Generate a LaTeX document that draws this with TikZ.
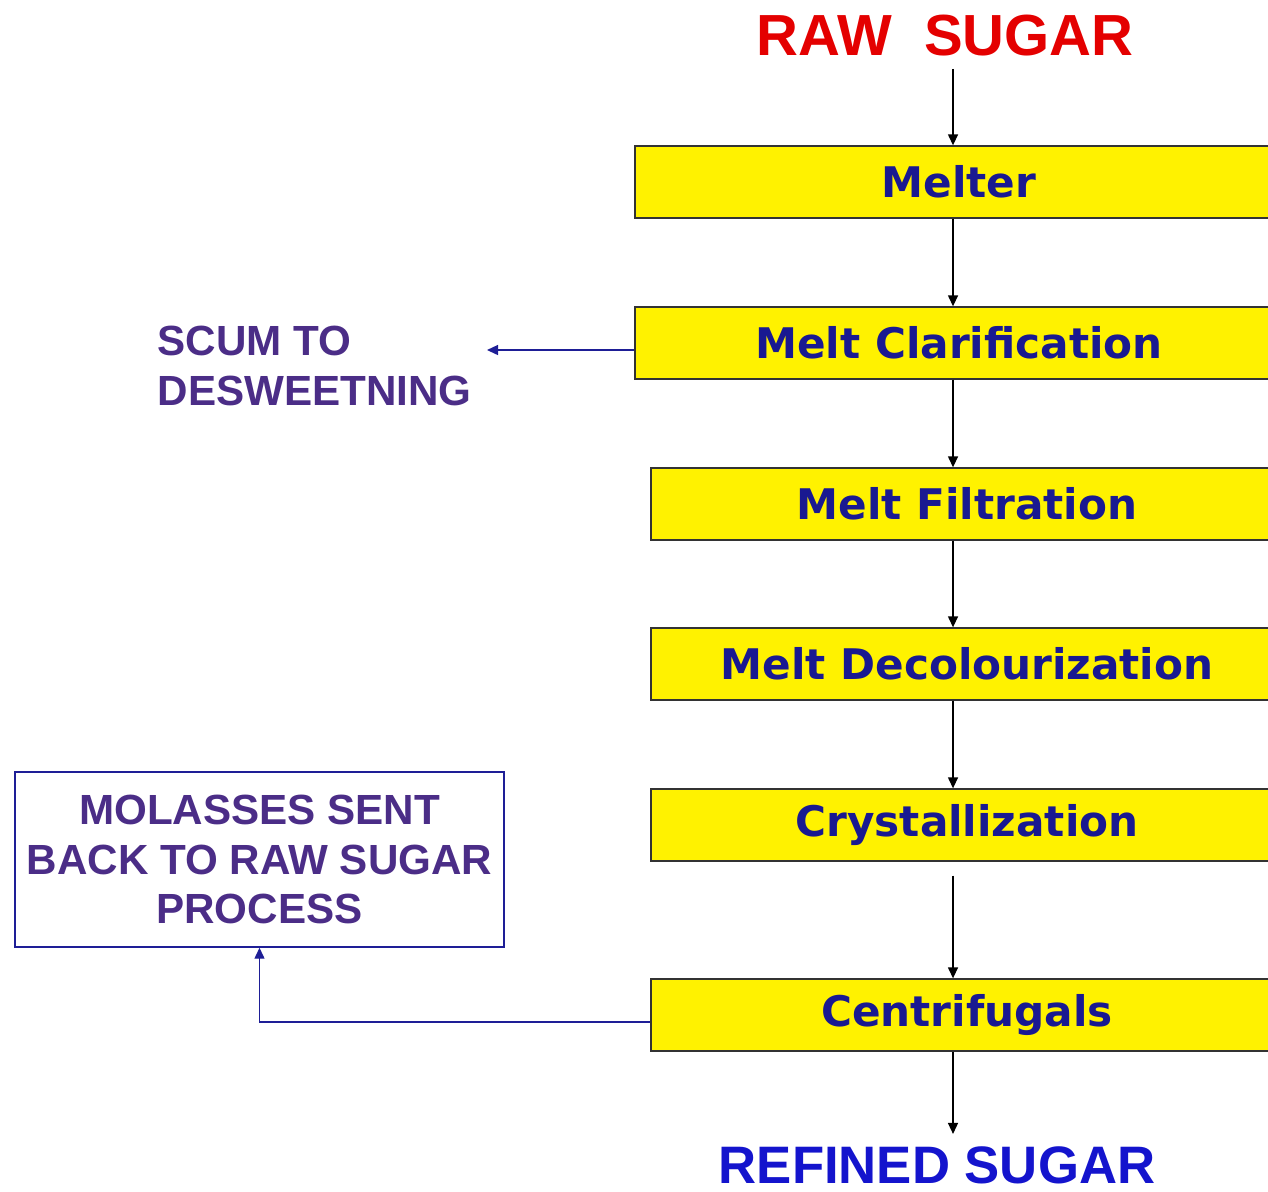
\documentclass[tikz,border=0pt]{standalone}
\usepackage{fontspec}
\newfontfamily\boxfont{DejaVu Sans}
\newfontfamily\headfont{Liberation Sans}
\usetikzlibrary{arrows.meta}
\definecolor{stepblue}{RGB}{25,25,145}
\definecolor{sidepurple}{RGB}{75,45,135}
\definecolor{rawred}{RGB}{228,0,0}
\definecolor{refblue}{RGB}{20,20,205}
\definecolor{linkblue}{RGB}{30,30,150}
\begin{document}
\begin{tikzpicture}[
  stepbox/.style={draw=black!80, fill=yellow, minimum height=0.72cm, inner sep=0pt, text=stepblue, font=\boxfont\bfseries\fontsize{12}{14}\selectfont},
  sidetext/.style={text=sidepurple, font=\headfont\bfseries\fontsize{12}{14.2}\selectfont},
  flow/.style={draw=black, thin, -{Triangle[length=1.1mm,width=1mm]}},
  back/.style={draw=linkblue, thin, -{Triangle[length=1.1mm,width=1mm]}}
]
\useasboundingbox (0,0) rectangle (12.68,-11.91);
\coordinate (ax) at (9.53,0);
%feed and product
\node (raw) at (9.45,-0.36) [text=rawred, font=\headfont\bfseries\fontsize{16.5}{18}\selectfont] {RAW\ \ SUGAR};
\node (ref) at (9.37,-11.65) [text=refblue, font=\headfont\bfseries\fontsize{15}{18}\selectfont] {REFINED SUGAR};
%main line
\node (mel) at (9.59,-1.82) [stepbox, minimum width=6.48cm] {Melter};
\node (cla) at (9.59,-3.43) [stepbox, minimum width=6.48cm] {Melt Clarification};
\node (fil) at (9.67,-5.04) [stepbox, minimum width=6.32cm] {Melt Filtration};
\node (dec) at (9.67,-6.64) [stepbox, minimum width=6.32cm] {Melt Decolourization};
\node (cry) at (9.67,-8.25) [stepbox, minimum width=6.32cm] {Crystallization};
\node (cen) at (9.67,-10.15) [stepbox, minimum width=6.32cm] {Centrifugals};
\draw[flow] (raw.south -| ax) -- (mel.north -| ax);
\draw[flow] (mel.south -| ax) -- (cla.north -| ax);
\draw[flow] (cla.south -| ax) -- (fil.north -| ax);
\draw[flow] (fil.south -| ax) -- (dec.north -| ax);
\draw[flow] (dec.south -| ax) -- (cry.north -| ax);
\draw[flow, shorten <=0.14cm] (cry.south -| ax) -- (cen.north -| ax);
\draw[flow] (cen.south -| ax) -- (ref.north -| ax);
%scum
\node (scum) at (1.57,-3.66) [sidetext, anchor=west, align=left, inner sep=0pt] {SCUM TO\\DESWEETNING};
\coordinate (scumtip) at (4.87,-3.50);
\draw[back] (cla.west |- scumtip) -- (scumtip);
%molasses
\node (mol) at (2.595,-8.595) [sidetext, draw=linkblue, thin, align=center, minimum width=4.83cm, minimum height=1.75cm] {MOLASSES SENT\\BACK TO RAW SUGAR\\PROCESS};
\coordinate (molturn) at (2.58,-10.22);
\draw[back] (cen.west |- molturn) -| (mol.south);
\end{tikzpicture}
\end{document}
